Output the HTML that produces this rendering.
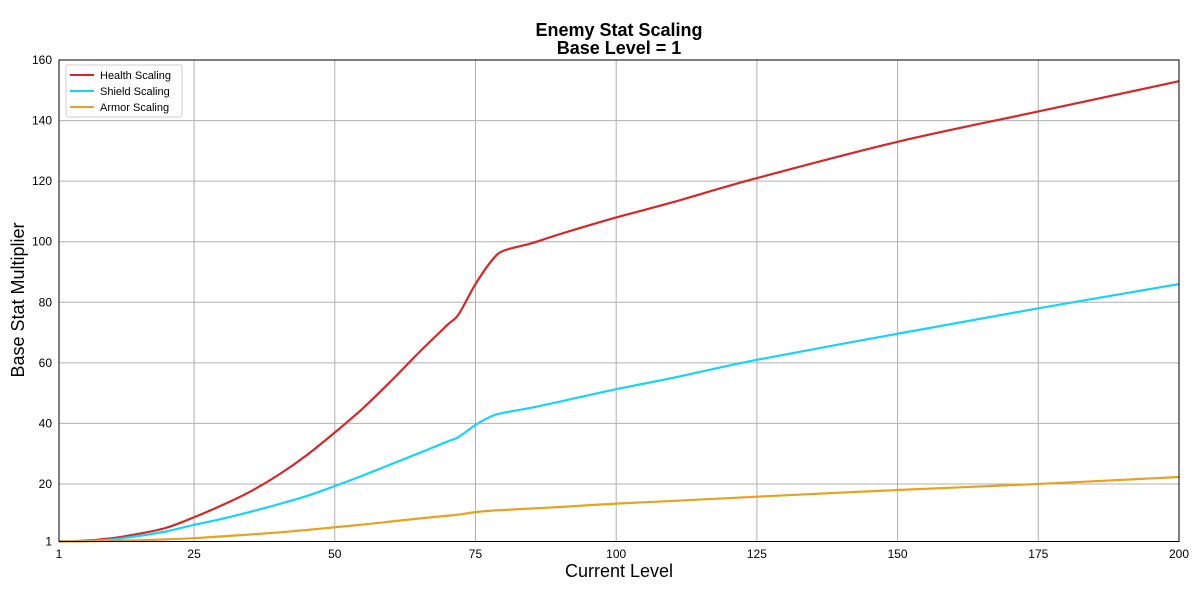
<!DOCTYPE html>
<html><head><meta charset="utf-8"><style>
body{margin:0;background:#fff;font-family:"Liberation Sans",sans-serif}
</style></head><body>
<svg id="chart" width="1200" height="603" xmlns="http://www.w3.org/2000/svg">
<text x="619" y="36" text-anchor="middle" font-size="18" font-weight="bold">Enemy Stat Scaling</text>
<text x="619" y="54" text-anchor="middle" font-size="18" font-weight="bold">Base Level = 1</text>
<g id="grid"></g>
<g id="series"></g>
<rect x="59" y="60" width="1120" height="481.5" fill="none" stroke="#000" stroke-width="1"/>
<g id="ticks"></g>
<text x="619" y="577" text-anchor="middle" font-size="18">Current Level</text>
<text transform="translate(24,300) rotate(-90)" text-anchor="middle" font-size="18">Base Stat Multiplier</text>
<g>
<rect x="66" y="65" width="116" height="52" fill="#fff" stroke="#ccc" rx="2"/>
<line x1="70" y1="75" x2="94" y2="75" stroke="#d62728" stroke-width="2"/>
<text x="100" y="79" font-size="11">Health Scaling</text>
<line x1="70" y1="91" x2="94" y2="91" stroke="#17d4f5" stroke-width="2"/>
<text x="100" y="95" font-size="11">Shield Scaling</text>
<line x1="70" y1="107" x2="94" y2="107" stroke="#e8a21e" stroke-width="2"/>
<text x="100" y="111" font-size="11">Armor Scaling</text>
</g>
</svg>
<script>
const levels = [1,5,10,15,20,25,30,35,40,45,50,55,60,65,70,72,75,78,80,85,90,100,110,125,150,175,200];
const health = [1,1.2,2,3.5,5.5,9,13,17.5,23,29.5,37,45,54,63.5,72.5,76,86,94,97,99.5,102.5,108,113,121,133,143,153];
const shield = [1,1.1,1.6,2.8,4.3,6.5,8.5,10.8,13.3,16,19.3,22.8,26.5,30.2,34,35.5,39.5,42.5,43.5,45.2,47.2,51.3,55,61,69.6,78,86];
const armor = [1,1.05,1.2,1.4,1.7,2.1,2.7,3.3,4,4.8,5.7,6.6,7.6,8.6,9.5,9.9,10.7,11.2,11.4,11.9,12.4,13.5,14.4,15.8,18,20,22.3];
const xTicks = [1,25,50,75,100,125,150,175,200];
const yTicks = [1,20,40,60,80,100,120,140,160];
const X = v => 59 + (v-1)*(1120/199);
const Y = v => 541.5 - (v-1)*(481.5/159);
const NS="http://www.w3.org/2000/svg";
const grid=document.getElementById('grid'), ticks=document.getElementById('ticks'), ser=document.getElementById('series');
xTicks.forEach(t=>{
  const l=document.createElementNS(NS,'line');
  l.setAttribute('x1',X(t));l.setAttribute('x2',X(t));l.setAttribute('y1',60);l.setAttribute('y2',541.5);
  l.setAttribute('stroke','#b0b0b0');l.setAttribute('stroke-width','1');
  
  
  grid.appendChild(l);
  const tx=document.createElementNS(NS,'text');
  tx.setAttribute('x',X(t));tx.setAttribute('y',558);tx.setAttribute('text-anchor','middle');tx.setAttribute('font-size','12');
  tx.textContent=t;
  
  
  ticks.appendChild(tx);
});
yTicks.forEach(t=>{
  const l=document.createElementNS(NS,'line');
  l.setAttribute('x1',59);l.setAttribute('x2',1179);l.setAttribute('y1',Y(t));l.setAttribute('y2',Y(t));
  l.setAttribute('stroke','#b0b0b0');l.setAttribute('stroke-width','1');
  
  
  grid.appendChild(l);
  const tx=document.createElementNS(NS,'text');
  tx.setAttribute('x',52);tx.setAttribute('y',Y(t)+4);tx.setAttribute('text-anchor','end');tx.setAttribute('font-size','12');
  tx.textContent=t;
  
  
  ticks.appendChild(tx);
});
function draw(vals,color,name){
  const pts=levels.map((l,i)=>[X(l),Y(vals[i])]);
  let d='M'+pts[0][0]+','+pts[0][1];
  for(let i=0;i<pts.length-1;i++){
    const p0=pts[Math.max(0,i-1)],p1=pts[i],p2=pts[i+1],p3=pts[Math.min(pts.length-1,i+2)];
    const c1=[p1[0]+(p2[0]-p0[0])/6,p1[1]+(p2[1]-p0[1])/6];
    const c2=[p2[0]-(p3[0]-p1[0])/6,p2[1]-(p3[1]-p1[1])/6];
    d+=' C'+c1+' '+c2+' '+p2;
  }
  const p=document.createElementNS(NS,'path');
  p.setAttribute('d',d);p.setAttribute('fill','none');p.setAttribute('stroke',color);p.setAttribute('stroke-width','2.2');
  
  
  ser.appendChild(p);
}
draw(health,'#d62728','health-scaling-line');
draw(shield,'#17d4f5','shield-scaling-line');
draw(armor,'#e8a21e','armor-scaling-line');
</script>
</body></html>
